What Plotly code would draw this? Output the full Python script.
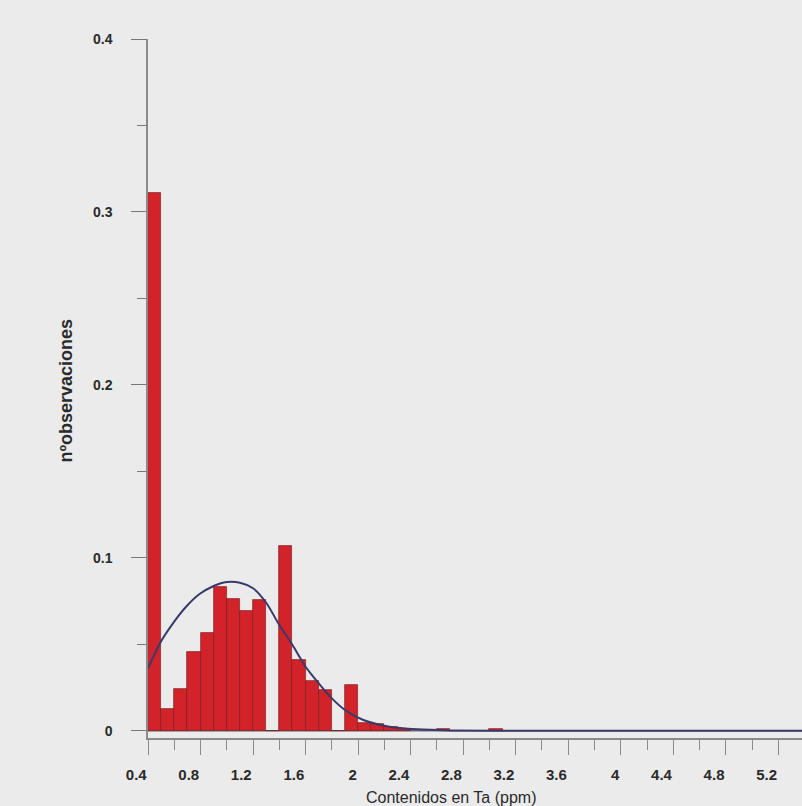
import plotly.graph_objects as go

# Histogram bins (left edge, width 0.1) and relative frequencies
bin_left = [0.4, 0.5, 0.6, 0.7, 0.8, 0.9, 1.0, 1.1, 1.2, 1.3, 1.4, 1.5, 1.6, 1.7, 1.8,
            1.9, 2.0, 2.1, 2.2, 2.3, 2.6, 3.0]
freq = [0.311, 0.0128, 0.024, 0.0453, 0.0566, 0.0833, 0.076, 0.069, 0.0756, 0.0, 0.107,
        0.0407, 0.0285, 0.0238, 0.0, 0.0267, 0.0046, 0.004, 0.002, 0.0012, 0.0010, 0.0010]
bin_width = 0.1

# Fitted normal curve
curve_x = [0.4, 0.49, 0.59, 0.69, 0.79, 0.9, 1.0, 1.1, 1.2, 1.3, 1.4, 1.5, 1.6, 1.7, 1.8,
           1.9, 2.04, 2.24, 2.45, 2.7, 3.2, 5.4]
curve_y = [0.0361, 0.0505, 0.0621, 0.0717, 0.0789, 0.0837, 0.0860, 0.0856, 0.0824, 0.0740,
           0.0611, 0.0496, 0.037, 0.0274, 0.0187, 0.012, 0.0062, 0.0023, 0.0008, 0.0002,
           0.0, 0.0]

x_tick_vals = [0.4, 0.8, 1.2, 1.6, 2.0, 2.4, 2.8, 3.2, 3.6, 4.0, 4.4, 4.8, 5.2]
x_tick_text = ["0.4", "0.8", "1.2", "1.6", "2", "2.4", "2.8", "3.2", "3.6", "4", "4.4", "4.8", "5.2"]
y_tick_vals = [0, 0.1, 0.2, 0.3, 0.4]
y_tick_text = ["0", "0.1", "0.2", "0.3", "0.4"]

x_title = "Contenidos en Ta (ppm)"
y_title = "nºobservaciones"

fig = go.Figure()
fig.add_trace(go.Bar(
    x=[b + bin_width / 2 for b in bin_left], y=freq, width=bin_width,
    marker=dict(color="#d2222a", line=dict(color="rgba(110,25,25,0.75)", width=0.8)),
    showlegend=False, hoverinfo="skip"))
fig.add_trace(go.Scatter(
    x=curve_x, y=curve_y, mode="lines",
    line=dict(color="#3a3a6a", width=2, shape="spline", smoothing=0.8),
    showlegend=False, hoverinfo="skip"))

fig.add_shape(type="line", xref="paper", yref="y", x0=0, x1=1, y0=0, y1=0,
              line=dict(color="#6a6a78", width=1.5), layer="below")

fig.update_layout(
    width=802, height=806,
    margin=dict(l=148, r=0, t=39, b=68),
    paper_bgcolor="#ebebeb", plot_bgcolor="#ebebeb",
    bargap=0,
    font=dict(family="Liberation Sans, Arial, sans-serif", color="#2a2a2a"),
    xaxis=dict(
        range=[0.4, 5.38], showgrid=False, zeroline=False,
        showline=True, linecolor="#8a8a8a", linewidth=1.5,
        ticks="outside", ticklen=15, tickwidth=1.2, tickcolor="#8a8a8a",
        tickvals=x_tick_vals, ticktext=x_tick_text,
        ticklabelposition="outside left", ticklabelstandoff=22,
        tickfont=dict(size=15, color="#2a2a2a", weight="bold"),
        minor=dict(dtick=0.2, tick0=0.4, ticks="outside", ticklen=10,
                   tickwidth=1.2, tickcolor="#8a8a8a", showgrid=False),
    ),
    yaxis=dict(
        range=[-0.0042, 0.4], showgrid=False, zeroline=False,
        showline=True, linecolor="#8a8a8a", linewidth=1.5,
        ticks="outside", ticklen=15, tickwidth=1.2, tickcolor="#777777",
        tickvals=y_tick_vals, ticktext=y_tick_text,
        ticklabelstandoff=16,
        tickfont=dict(size=14, color="#2a2a2a", weight="bold"),
        minor=dict(dtick=0.05, tick0=0, ticks="outside", ticklen=9,
                   tickwidth=1.2, tickcolor="#777777", showgrid=False),
    ),
    annotations=[
        dict(text=x_title, xref="paper", yref="paper", x=0.463, y=-0.085,
             xanchor="center", yanchor="middle", showarrow=False,
             font=dict(size=16, color="#2a2a2a")),
        dict(text=y_title, xref="paper", yref="paper", x=-0.1254, y=0.497,
             xanchor="center", yanchor="middle", showarrow=False, textangle=-90,
             font=dict(size=18, color="#2a2a2a", weight="bold")),
    ],
)

fig.write_html(
    "out.html",
    config={"displayModeBar": False},
    post_script=("document.body.style.margin='0';"
                 "document.body.style.background='#ebebeb';"
                 "document.body.style.overflow='hidden';"),
)
